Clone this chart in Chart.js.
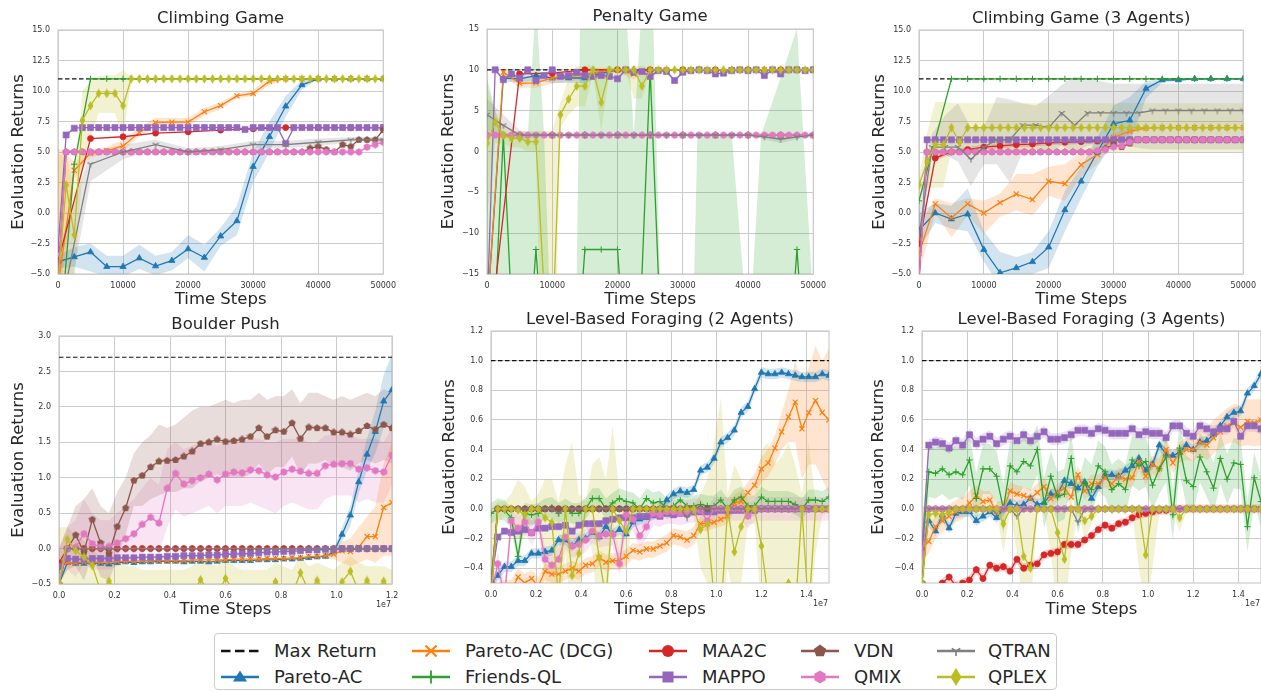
<!DOCTYPE html>
<html>
<head>
<meta charset="utf-8">
<script src="https://cdn.jsdelivr.net/npm/chart.js@4.4.1/dist/chart.umd.min.js"></script>
<style>
body { margin: 0; background: #fff; width: 1261px; height: 692px; overflow: hidden; position: relative; font-family: "DejaVu Sans", sans-serif; }
canvas { position: absolute; }
#legendBox { position: absolute; left: 214px; top: 633px; width: 843px; height: 57px; border: 1px solid #cccccc; border-radius: 4px; box-sizing: border-box; }
.lg { position: absolute; height: 20px; line-height: 20px; font-size: 18px; color: #262626; white-space: nowrap; }
</style>
</head>
<body>
<div id="legendBox"></div>
<script>
// series names / colours (legend order)
const seriesNames = ['Pareto-AC', 'Pareto-AC (DCG)', 'Friends-QL', 'MAA2C', 'MAPPO', 'VDN', 'QMIX', 'QTRAN', 'QPLEX'];
const seriesColors = ['#1f77b4', '#ff7f0e', '#2ca02c', '#d62728', '#9467bd', '#8c564b', '#e377c2', '#7f7f7f', '#bcbd22'];
const maxReturns = [11, 10, 11, 2.7, 1.0, 1.0];

// tick labels
const row1XTicks = [0, 10000, 20000, 30000, 40000, 50000];
const climbYTicks = [-5, -2.5, 0, 2.5, 5, 7.5, 10, 12.5, 15];
const penaltyYTicks = [-15, -10, -5, 0, 5, 10, 15];
const boulderXTicks = [0, 2e6, 4e6, 6e6, 8e6, 1e7, 1.2e7];
const boulderYTicks = [-0.5, 0, 0.5, 1, 1.5, 2, 2.5, 3];
const lbfXTicks = [0, 2e6, 4e6, 6e6, 8e6, 1e7, 1.2e7, 1.4e7];
const lbfYTicks = [-0.4, -0.2, 0, 0.2, 0.4, 0.6, 0.8, 1.0, 1.2];

// ---------- Climbing Game ----------
const cgPareto = [-4.0,-3.6,-3.2,-4.4,-4.4,-3.7,-4.35,-3.9,-2.95,-3.65,-1.9,-0.65,3.8,6.25,8.75,10.5,11,11,11,11,11];
const cgParetoHi = [-3.5,-2.8,-2.5,-3.5,-3.5,-2.6,-3.5,-3.2,-1.8,-2.6,-1.2,0.6,5.0,7.5,9.6,10.9,11,11,11,11,11];
const cgParetoLo = [-4.5,-4.4,-4.8,-5.2,-5.2,-4.6,-5.1,-4.7,-3.7,-4.8,-2.7,-1.8,2.5,5.0,7.9,10.1,11,11,11,11,11];
const cgDcg = [-6,3.5,4.9,5.1,5.5,6.6,7.4,7.45,7.45,8.3,8.8,9.6,9.8,10.8,11,11,11,11,11,11,11];
const cgDcgHi = [5.3,4.2,5.2,5.4,6.0,7.0,7.8,7.8,7.8,8.6,9.1,9.8,10.1,11.1,11,11,11,11,11,11,11];
const cgDcgLo = [-8,2.8,4.6,4.8,5.1,6.3,7.1,7.1,7.1,8.0,8.5,9.4,9.6,10.5,11,11,11,11,11,11,11];
const cgFriends = [-12,4.0,11,11,11,11,11,11,11,11,11,11,11,11,11,11,11,11,11,11,11];
const cgMaa2c = [-4.0,6.1,6.25,6.55,6.65,6.8,6.9,7.0,7.0,7.0,7.0];
const cgMappo = [-3.0,6.4,6.95,7,7,7,7,7,7,7,7,7,7,7,7,7,7,7,7,7,7,7,7,6.85,7,7,7,7,5.7,7,7,7,7,7,7,7,7,7,7,7,7];
const cgVdn = [-5.5,5,5,5,5,5,5,5,5,5,5,5,5,5,5,5,5,5,5,5,5,5,5,5,5,5,5,5,5,5,5,5.3,5.45,5.2,5.0,5.6,5.45,6.0,6.0,6.0,6.8];
const cgQmix = [-5.5,5,5,5,5,5,5,5,5,5,5,5,5,5,5,5,5,5,5,5,5,5,5,5,5,5,5,5,5,5,5,5,5,5,5,5,5,5,5.4,5.6,5.8];
const cgQtran = [-9,4.0,5.0,5.6,5.0,5.2,5.6,5.6,5.8,6.0,6.0];
const cgQtranHi = [-3,5.0,5.6,6.0,5.3,5.5,5.9,5.9,6.1,6.2,6.2];
const cgQtranLo = [-12,2.6,4.4,5.2,4.7,4.9,5.3,5.3,5.5,5.8,5.8];
const cgQplex = [-6,2.3,-1.8,7.6,8.8,9.8,9.8,9.8,8.8,11,11,11,11,11,11,11,11,11,11,11,11,11,11,11,11,11,11,11,11,11,11,11,11,11,11,11,11,11,11,11,11];
const cgQplexHi = [4.8,4.8,2.0,10.0,10.8,11.2,11.3,11.3,11.7,11.2,11];
const cgQplexLo = [-8,-5,-6,3.5,6.0,8.2,8.2,8.2,6.0,10.8,11];

// ---------- Penalty Game ----------
const pgPareto = [-20,9.0,8.9,9.3,9.0,9.0,9.0,9.6,10,10,10,10,10,10,10,10,10,10,10,10,10];
const pgParetoHi = [9.4,9.4,9.7,9.6,9.6,9.6,9.9,10];
const pgParetoLo = [8.6,8.4,8.7,8.4,8.4,8.4,9.2,10];
const pgDcg = [-20,9.7,8.35,8.4,9.0,9.2,9.4,9.8,10,9.5,10,10,10,10,10,10,10,10,10,10,10];
const pgDcgHi = [10.2,9.2,9.3,9.8,9.9,10.2,10.2,10.2,10.2,10];
const pgDcgLo = [9.2,7.8,7.8,8.3,8.6,8.8,9.3,9.8,8.8,10];
const pgFriends = [-40,2,-40,-12,-40,-40,-12,-12,-12,-40,10,-40,-40,-40,-40,-40,-40,-40,-40,-12,-40];
const pgFriendsBandX = [0,1250,2500,3750,5000,6250,7250,7750,8750,9500,13750,14250,15000,20000,21500,22500,23500,24500,25500,26500,31750,32250,37500,39250,40750,42000,47500,49750];
const pgFriendsHi = [9,5,2,2,2,2,15,15,2,-15,-15,15,15,15,15,2,15,15,15,-15,-15,2,2,-15,-15,2,15,-15];
const pgMaa2c = [-25,9.5,9.6,10,10,10,10,10,10,10,10];
const pgMappo = [-20,10,8.8,9.5,9.0,10,8.7,9.3,10,9.2,9.3,9.7,9.3,9.2,9.3,9.2,8.9,10,9.7,9.8,9.2,9.9,9.8,8.7,9.7,9.9,10,9.9,9.5,9.6,9.9,10,9.9,10,9.3,10,9.5,10,10,9.9,10];
const pgVdn = [2,2,2,2,2,2,2,2,2,2,2];
const pgQmix = [2,2,2,2,2,2,2,2,2,2,2,2,2,2,2,2,2,2,2,2,2,2,2,2,2,2,2,2,2,2,2,2,2,2,2,2,2,2,2,2,2];
const pgQtran = [4.5,3.2,2.0,2.0,2.0,2.0,2.0,2.0,2.0,2.0,2.0,2.0,2.0,2.0,2.0,2.0,2.0,1.8,1.5,1.8,2.0];
const pgQtranHi = [6.5,4.5,2.6,2.2,2.1,2.1,2.1,2.1,2.1,2.1,2.1,2.1,2.1,2.1,2.1,2.1,2.1,2.1,2.0,2.1,2.1];
const pgQtranLo = [2.5,2.0,1.4,1.8,1.9,1.9,1.9,1.9,1.9,1.9,1.9,1.9,1.9,1.9,1.9,1.9,1.9,1.5,1.0,1.5,1.9];
const pgQplex = [1.0,3.6,2.0,1.6,1.6,1.2,1.2,-17,-23,4.5,6.4,8.0,8.0,10,6.0,10,10,10,10,8.0,10,10,10,10,10,10,10,10,10,10,10,10,10,10,10,10,10,10,10,10,10];
const pgQplexHi = [8,5,3,2.5,2.5,2.5,2.5,2.5,2.5,6,9,10.5,10.5,10.5,10,10.5,10.2,10.2,10.5,10.5,10.2];
const pgQplexLo = [-8,1,1,0.5,0.5,0,0,-40,-40,3,4.5,5.5,5.5,9.5,2.5,9.5,9.8,9.8,6.5,6.5,9.8];

// ---------- Climbing Game (3 Agents) ----------
const c3Pareto = [-1.4,0.0,-0.5,-0.1,-3.0,-4.9,-4.5,-4.0,-2.8,0.25,2.6,5.0,7.3,7.6,10.2,10.9,10.9,11,11,11,11];
const c3ParetoHi = [0,0.8,0.6,2.0,-1.5,-3.2,-3.6,-3.2,-1.5,1.8,3.8,6.2,8.8,9.5,10.8,11,11,11,11,11,11];
const c3ParetoLo = [-3,-0.8,-1.3,-1.5,-4.0,-6,-5.5,-5,-4.5,-1.5,1.2,3.8,5.8,5.8,9.4,10.7,10.8,11,11,11,11];
const c3Dcg = [-3.3,0.75,-0.4,0.75,0.0,0.85,1.55,1.1,2.6,2.4,3.95,4.8,6.2,6.7,6.95,7.0,7.0,7.0,7.0,7.0,7.0];
const c3DcgHi = [-1,1.2,0.8,1.2,1.0,1.6,3.2,3.2,3.8,4.0,5.0,5.6,6.6,6.9,7.0,7.0,7.0,7.0,7.0,7.0,7.0];
const c3DcgLo = [-5,0.0,-2.0,-0.2,-1.7,-0.3,0.2,-0.2,1.4,1.0,3.0,4.0,5.8,6.5,6.9,7.0,7.0,7.0,7.0,7.0,7.0];
const c3Friends = [1.0,6.0,11,11,11,11,11,11,11,11,11,11,11,11,11,11,11,11,11,11,11];
const c3Maa2c = [-2.5,4.5,5.0,5.2,5.4,5.5,5.6,5.65,5.75,5.8,5.85,5.9,5.95,6.0,6.0,6.0,6.0,6.0,6.0,6.0,6.0];
const c3Mappo = [-5.5,6,6,6,6,6,6,6,6,6,6,6,6,6,6,6,6,6,6,6,6,6,6,6,6,6,6,6,6,6,6,6,6,6,6,6,6,6,6,6,6];
const c3Vdn = [-5.5,5,5,5,5,5,5,5,5,5,5,5,5,5,5,5,5,5,5,5,5,5,5,5.3,5.6,5.4,5.7,6,6,6,6,6,6,6,6,6,6,6,6,6,6];
const c3Qmix = [-5.5,5,5,5,5,5,5,5,5,5,5,5,5,5,5,5,5,5,5,5,5,5,5.1,5.2,5.4,5.5,5.8,6,6,6,6,6,6,6,6,6,6,6,6,6,6];
const c3Qtran = [-2.0,5.4,5.4,5.4,4.4,5.4,6.0,6.0,7.2,7.2,7.0,8.2,7.2,8.2,8.2,8.2,8.2,8.2,8.4,8.4,8.4,8.4,8.4,8.4,8.4,8.4];
const c3QtranHi = [1,6.5,8.0,9.0,7.0,7.0,9.5,9.3,9.0,8.8,9.6,10.5,11.2,11.0,10.8,10.6,10.6,10.6,10.6,10.6,10.6,10.6,10.6,10.6,10.6,10.6];
const c3QtranLo = [-4,4.5,4.8,4.2,2.2,4.0,4.0,2.5,5.0,5.2,5.0,5.5,5.0,5.5,5.6,5.6,5.5,5.3,5.2,5.2,5.2,5.2,5.2,5.2,5.2,5.2];
const c3Qplex = [2.3,4.2,5.6,5.6,7.0,5.8,7,7,7,7,7,7,7,7,7,7,7,7,7,7,7,7,7,7,7,7,7,7,7,7,7,7,7,7,7,7,7,7,7,7,7];
const c3QplexHi = [3.0,6.6,9.1,9.1,9.0,9.0,9,9,9,9,9,9,9,9,9,9,9,9,9,9,9,9,9,9,9,9,9,9,9,9,9,9,9,9,9,9,9,9,9,9,9];
const c3QplexLo = [1.5,2.0,2.1,2.1,5.2,5.0,5,5,5,5,5,5,5,5,5,5,5,5,5,5,5,5,5,5,5,5,5,5,5,5,5,5,5,5,5,5,5,5,5,5,5];

// ---------- Boulder Push ----------
const bpPareto = [-0.5,-0.2,-0.21,-0.21,-0.2,-0.21,-0.22,-0.2,-0.19,-0.2,-0.19,-0.19,-0.18,-0.18,-0.18,-0.19,-0.18,-0.18,-0.19,-0.18,-0.17,-0.17,-0.17,-0.17,-0.16,-0.16,-0.16,-0.15,-0.15,-0.14,-0.13,-0.12,-0.11,-0.05,0.2,0.47,0.94,1.33,1.65,2.08,2.24];
const bpParetoHi = [-0.08,0.0,0.3,0.6,1.1,1.55,1.95,2.45,2.75];
const bpParetoLo = [-0.14,-0.1,0.1,0.32,0.78,1.1,1.35,1.7,1.75];
const bpDcg = [-0.25,-0.2,-0.2,-0.19,-0.19,-0.19,-0.19,-0.18,-0.18,-0.18,-0.17,-0.17,-0.17,-0.17,-0.17,-0.17,-0.16,-0.16,-0.16,-0.16,-0.16,-0.15,-0.15,-0.15,-0.15,-0.14,-0.14,-0.14,-0.13,-0.13,-0.11,-0.11,-0.1,-0.08,-0.03,-0.04,0.02,0.17,0.17,0.58,0.65];
const bpDcgHi = [-0.05,0.0,0.1,0.15,0.3,0.45,0.6,1.2,1.5];
const bpDcgLo = [-0.15,-0.15,-0.2,-0.25,-0.2,-0.15,-0.2,-0.1,-0.1];
const bpFriends = [-0.5,0,0,0,0,0,0,0,0,0,0,0,0,0,0,0,0,0,0,0,0,0,0,0,0,0,0,0,0,0,0,0,0,0,0,0,0,0,0,0,0];
const bpMaa2c = [-0.2,0,0,0,0,0,0,0,0,0,0,0,0,0,0,0,0,0,0,0,0,0,0,0,0,0,0,0,0,0,0,0,0,0,0,0,0,0,0,0,0];
const bpMappo = [-0.25,-0.14,-0.15,-0.15,-0.14,-0.14,-0.14,-0.13,-0.13,-0.13,-0.12,-0.12,-0.12,-0.11,-0.11,-0.1,-0.1,-0.1,-0.09,-0.09,-0.08,-0.08,-0.07,-0.07,-0.06,-0.05,-0.05,-0.04,-0.04,-0.03,-0.02,-0.02,-0.01,-0.01,0,0,0,0,0,0,0];
const bpVdn = [-0.5,0.0,0.19,-0.05,0.41,0.08,-0.07,0.31,0.57,0.96,1.03,1.15,1.23,1.24,1.25,1.30,1.37,1.48,1.50,1.54,1.51,1.52,1.54,1.58,1.70,1.58,1.67,1.65,1.77,1.55,1.71,1.70,1.70,1.64,1.64,1.61,1.66,1.73,1.68,1.75,1.70];
const bpVdnHi = [0.0,0.3,0.6,0.7,0.85,0.6,0.5,0.8,1.0,1.35,1.5,1.6,1.75,1.7,1.75,1.85,1.95,2.0,2.0,2.05,2.1,2.05,2.1,2.1,2.2,2.1,2.15,2.15,2.25,2.05,2.2,2.2,2.15,2.1,2.15,2.1,2.15,2.2,2.15,2.25,2.2];
const bpVdnLo = [-0.5,-0.3,-0.25,-0.45,-0.1,-0.4,-0.45,-0.15,0.2,0.6,0.6,0.7,0.75,0.8,0.8,0.85,0.85,0.95,1.0,1.05,1.0,1.0,1.0,1.05,1.2,1.05,1.15,1.15,1.3,1.05,1.2,1.2,1.25,1.15,1.15,1.1,1.2,1.25,1.2,1.25,1.2];
const bpQmix = [-0.5,0.0,0.02,0.21,0.07,0.02,0.03,0.08,0.14,0.21,0.34,0.44,0.36,0.85,1.06,0.91,0.96,1.00,1.05,0.97,1.05,1.08,1.07,1.11,1.10,1.04,1.01,1.08,1.12,1.09,1.06,1.06,1.17,1.19,1.20,1.20,1.12,1.14,1.10,1.08,1.32];
const bpQmixHi = [0,0.3,0.4,0.7,0.5,0.4,0.4,0.5,0.6,0.7,0.85,1.0,0.9,1.4,1.5,1.4,1.45,1.5,1.5,1.45,1.5,1.55,1.5,1.55,1.55,1.5,1.5,1.55,1.55,1.55,1.5,1.5,1.6,1.6,1.6,1.6,1.55,1.55,1.55,1.5,1.7];
const bpQmixLo = [-0.5,-0.3,-0.4,-0.2,-0.3,-0.3,-0.3,-0.25,-0.2,-0.1,-0.05,0.0,-0.05,0.3,0.55,0.45,0.5,0.55,0.6,0.5,0.6,0.6,0.6,0.65,0.6,0.55,0.5,0.6,0.65,0.6,0.55,0.55,0.7,0.75,0.75,0.75,0.65,0.7,0.65,0.65,0.9];
const bpQtran = [-0.3,0,0,0,0,0,0,0,0,0,0,0,0,0,0,0,0,0,0,0,0,0,0,0,0,0,0,0,0,0,0,0,0,0,0,0,0,0,0,0,0];
const bpQplex = [-0.5,0.13,-0.03,-0.12,-0.24,-0.6,-0.46,-0.6,-0.65,-0.6,-0.65,-0.6,-0.7,-0.6,-0.65,-0.6,-0.65,-0.44,-0.6,-0.65,-0.42,-0.6,-0.65,-0.6,-0.65,-0.6,-0.47,-0.6,-0.65,-0.34,-0.6,-0.45,-0.6,-0.65,-0.47,-0.32,-0.6,-0.45,-0.6,-0.46,-0.6];
const bpQplexHi = [0.3,0.3,0.2,0.1,0.0,-0.15,-0.05,-0.2,-0.25,-0.25,-0.3,-0.3,-0.3,-0.3,-0.3,-0.3,-0.25,-0.15,-0.2,-0.25,-0.1,-0.25,-0.3,-0.3,-0.3,-0.3,-0.2,-0.25,-0.3,-0.1,-0.25,-0.2,-0.25,-0.3,-0.2,-0.1,-0.2,-0.25,-0.25,-0.25,-0.3];
const bpQplexLo = -1;

// ---------- Level-Based Foraging (2 Agents) ----------
const l2Pareto = [-0.5,-0.45,-0.39,-0.39,-0.35,-0.35,-0.3,-0.3,-0.29,-0.28,-0.21,-0.21,-0.25,-0.21,-0.2,-0.16,-0.19,-0.12,-0.17,-0.14,-0.17,-0.09,-0.07,-0.06,-0.04,-0.02,0.06,0.1,0.12,0.11,0.13,0.26,0.28,0.34,0.45,0.48,0.53,0.65,0.69,0.81,0.92,0.91,0.91,0.92,0.91,0.9,0.89,0.89,0.89,0.91,0.9];
const l2Dcg = [-0.6,-0.6,-0.55,-0.55,-0.46,-0.5,-0.47,-0.52,-0.42,-0.44,-0.44,-0.42,-0.4,-0.42,-0.38,-0.37,-0.33,-0.36,-0.35,-0.35,-0.32,-0.28,-0.29,-0.27,-0.27,-0.25,-0.23,-0.18,-0.19,-0.21,-0.18,-0.1,-0.1,-0.09,-0.07,-0.05,0.04,0.05,0.11,0.16,0.27,0.31,0.41,0.52,0.62,0.72,0.54,0.65,0.73,0.65,0.6];
const l2DcgHi = [-0.5,-0.5,-0.48,-0.48,-0.4,-0.44,-0.41,-0.46,-0.37,-0.39,-0.39,-0.37,-0.35,-0.37,-0.33,-0.32,-0.28,-0.31,-0.3,-0.3,-0.27,-0.23,-0.24,-0.22,-0.22,-0.2,-0.17,-0.13,-0.14,-0.15,-0.12,-0.05,-0.05,
  -0.05,-0.02,0.0,0.1,0.12,0.18,0.24,0.35,0.4,0.5,0.65,0.8,1.0,0.85,0.95,1.1,1.0,1.08];
const l2DcgLo = [-0.7,-0.7,-0.62,-0.62,-0.52,-0.56,-0.53,-0.58,-0.48,-0.5,-0.5,-0.48,-0.46,-0.48,-0.44,-0.43,-0.39,-0.42,-0.41,-0.41,-0.38,-0.34,-0.35,-0.33,-0.33,-0.31,-0.29,-0.24,-0.25,-0.27,-0.24,-0.15,-0.15,
  -0.13,-0.12,-0.1,-0.02,-0.02,0.04,0.08,0.18,0.22,0.3,0.4,0.45,0.45,0.2,0.3,0.3,0.2,0.1];
const l2Friends = [-0.03,0.0,-0.01,-0.06,-0.32,-0.03,-0.04,-0.03,0.0,0.01,-0.03,0.0,-0.03,-0.03,0.0,0.07,0.07,0.0,0.04,0.07,0.05,0.04,0.0,0.07,0.04,0.05,0.0,0.02,0.06,0.02,0.02,0.03,0.02,0.02,0.06,0.0,0.06,0.08,0.02,0.02,0.08,0.05,0.05,0.05,0.05,0.03,0.0,0.06,0.06,0.05,0.08];
const l2Maa2c = [-0.6,0,0,0,0,0,0,0,0,0,0,0,0,0,0,0,0,0,0,0,0,0,0,0,0,0,0,0,0,0,0,0,0,0,0,0,0,0,0,0,0,0,0,0,0,0,0,0,0,0,0];
const l2Mappo = [-0.5,-0.19,-0.15,-0.16,-0.15,-0.14,-0.16,-0.13,-0.13,-0.12,-0.12,-0.11,-0.15,-0.11,-0.1,-0.1,-0.1,-0.08,-0.07,-0.06,-0.06,-0.06,-0.05,-0.05,-0.04,-0.05,-0.03,-0.04,-0.03,-0.03,-0.02,-0.02,-0.02,-0.02,-0.01,-0.01,-0.01,-0.01,-0.01,-0.01,0,0,0,0,0,0,0,0,0,0,0];
const l2Vdn = [-0.5,0,0,0,0,0,0,0,0,0,0,0,0,0,0,0,0,0,0,0,0,0,0,0,0,0,0,0,0,0,0,0,0,0,0,0,0,0,0,0,0,0,0,0,0,0,0,0,0,0,0];
const l2Qmix = [-0.6,-0.37,-0.6,-0.08,-0.13,-0.09,-0.16,-0.09,-0.34,-0.38,-0.34,-0.19,-0.25,-0.24,-0.21,-0.15,-0.18,-0.17,-0.17,-0.37,-0.04,-0.07,-0.18,-0.12,-0.03,-0.04,-0.02,-0.02,-0.03,-0.02,-0.01,-0.01,-0.08,0,0,0,0,0,-0.05,0,0,0,0,0,0,0,0,0,0,0,0];
const l2Qtran = [-0.5,0,0,0,0,0,0,0,0,0,-0.03,0,0,0,0,0,0,0,0,0,0,0,0,0,0,0,0,0,0,-0.06,0,0,0,0,0,0,0,0,0,0,0,0,0,0,0,0,0,0,0,0,0];
const l2Qplex = [-0.6,0.0,0.0,0.0,-0.01,-0.04,0.0,0.0,-0.06,-0.09,-0.6,0.0,-0.45,-0.3,0.0,0.0,-0.33,-0.6,0.0,-0.08,-0.15,0.0,0.0,0.0,0.0,0.0,0.0,0.0,0.0,0.0,0.0,-0.14,-0.1,-0.6,-0.7,0.0,-0.29,-0.12,0.0,0.0,-0.25,-0.6,-0.7,-0.7,-0.5,-0.7,0.0,-0.7,0.0,0.0,0.0];
const l2QplexHi = [0.0,0.05,0.05,0.1,0.2,0.15,0.05,0.1,0.2,0.2,0.05,0.3,0.45,0.1,0.05,0.3,0.35,0.2,0.56,0.1,0.05,0.02,0.02,0.02,0.02,0.02,0.02,0.02,0.02,0.02,0.02,0.1,0.2,0.45,0.75,0.1,0.3,0.2,0.05,0.05,0.4,0.45,0.3,0.35,0.45,0.3,0.1,0.45,0.05,0.02,0.02];
const l2QplexLo = [-0.7,-0.1,-0.05,-0.1,-0.2,-0.2,-0.1,-0.1,-0.5,-0.6,-0.8,-0.3,-0.8,-0.7,-0.1,-0.3,-0.8,-0.8,-0.1,-0.4,-0.4,-0.05,-0.02,-0.02,-0.02,-0.02,-0.02,-0.02,-0.02,-0.02,-0.05,-0.4,-0.5,-0.8,-0.8,-0.4,-0.6,-0.5,-0.1,-0.1,-0.7,-0.8,-0.8,-0.8,-0.8,-0.8,-0.5,-0.8,-0.3,-0.05,-0.02];

// ---------- Level-Based Foraging (3 Agents) ----------
const l3Pareto = [-0.27,-0.08,-0.15,-0.04,-0.13,-0.03,-0.02,-0.02,-0.08,-0.05,-0.02,-0.06,0.0,0.04,0.02,0.03,0.07,0.03,0.04,0.1,0.1,0.19,0.17,0.14,0.18,0.07,0.15,0.23,0.23,0.22,0.26,0.29,0.34,0.26,0.3,0.43,0.37,0.36,0.38,0.43,0.4,0.45,0.46,0.5,0.56,0.62,0.65,0.66,0.78,0.83,0.91];
const l3Dcg = [-0.25,-0.22,-0.12,-0.08,-0.05,-0.02,0.0,0.04,0.09,0.05,0.06,-0.02,0.0,0.12,0.1,0.09,0.07,0.11,0.15,0.07,0.11,0.14,0.08,0.23,0.12,0.17,0.17,0.21,0.17,0.22,0.2,0.21,0.32,0.22,0.3,0.27,0.4,0.31,0.38,0.4,0.4,0.45,0.43,0.48,0.52,0.56,0.58,0.55,0.59,0.58,0.6];
const l3DcgHi = [-0.15,-0.12,-0.04,0.0,0.03,0.06,0.08,0.12,0.16,0.12,0.12,0.05,0.06,0.18,0.16,0.15,0.13,0.17,0.21,0.13,0.17,0.2,0.14,0.29,0.18,0.23,0.23,0.27,0.23,0.28,0.26,0.27,0.38,0.28,0.36,0.34,0.47,0.38,0.45,0.48,0.49,0.55,0.54,0.6,0.64,0.68,0.71,0.7,0.74,0.74,0.74];
const l3DcgLo = [-0.35,-0.3,-0.2,-0.16,-0.12,-0.09,-0.07,-0.03,0.02,-0.02,0.0,-0.08,-0.06,0.06,0.04,0.03,0.01,0.05,0.09,0.01,0.05,0.08,0.02,0.17,0.06,0.11,0.11,0.15,0.11,0.16,0.14,0.15,0.26,0.16,0.24,0.2,0.33,0.24,0.31,0.33,0.32,0.36,0.33,0.37,0.41,0.44,0.45,0.42,0.43,0.42,0.43];
const l3Friends = [-0.3,0.25,0.24,0.27,0.23,0.25,0.23,0.33,0.07,0.27,0.27,0.22,0.0,0.29,0.25,0.32,0.29,0.4,0.04,0.22,0.08,0.1,0.34,0.0,0.18,0.13,0.29,0.25,0.13,0.17,0.13,0.33,0.29,0.32,0.16,0.27,0.35,-0.04,0.41,0.19,0.15,0.35,0.25,0.14,0.34,0.2,0.31,0.3,-0.12,0.21,0.05];
const l3Maa2c = [-0.6,-0.6,-0.55,-0.5,-0.46,-0.52,-0.5,-0.48,-0.41,-0.47,-0.38,-0.4,-0.39,-0.42,-0.34,-0.4,-0.38,-0.37,-0.31,-0.3,-0.29,-0.24,-0.24,-0.24,-0.21,-0.18,-0.14,-0.11,-0.13,-0.1,-0.09,-0.06,-0.04,-0.03,-0.02,-0.01,-0.01,0,0,0,0,0,0,0,0,0,0,0,0,0,0];
const l3Mappo = [-0.28,0.43,0.45,0.44,0.41,0.46,0.43,0.5,0.44,0.47,0.49,0.44,0.47,0.49,0.46,0.5,0.46,0.49,0.52,0.47,0.47,0.48,0.5,0.53,0.53,0.51,0.54,0.53,0.51,0.51,0.51,0.54,0.5,0.52,0.51,0.51,0.48,0.56,0.56,0.51,0.49,0.56,0.54,0.52,0.54,0.54,0.59,0.49,0.56,0.56,0.54];
const l3Vdn = [-0.5,0,0,0,0,0,0,0,0,0,0,0,0,0,0,0,0,0,0,0,0,0,0,0,0,0,0,0,0,0,0,0,0,0,0,0,0,0,0,0,0,0,0,0,0,0,0,0,0,0,0];
const l3Qmix = [-0.3,0,0,0,0,0,0,0,0,0,0,0,0,0,0,0,0,0,0,0,0,0,0,0,0,0,0,0,0,0,0,0,0,0,0,0,0,0,0,0,0,0,0,0,0,0,0,0,0,0,0];
const l3Qtran = [-0.5,0,0,0,0,0,0,0,0,0,0,-0.03,0,0,-0.05,0,0,0,0,0,0,0,0,-0.09,0,0,0,0,0,0,0,0,0,0,0,0,0,0,0,0,0,0,0,0,0,0,0,0,0,0,0];
const l3Qplex = [-0.5,-0.04,-0.03,-0.04,-0.02,0,0,0,0,0,0,0,-0.1,0,0,-0.32,-0.4,0,0,0,-0.16,-0.34,0,0,-0.08,-0.05,0,0,0,0,0,0,0,-0.31,0,0,0,0,-0.06,0,0,0,0,0,0,0,0,0,0,0,0];
const l3QplexLo = [-0.7,-0.1,-0.1,-0.1,-0.05,-0.02,-0.02,-0.02,-0.02,-0.02,-0.02,-0.02,-0.3,-0.02,-0.3,-0.7,-0.7,-0.02,-0.02,-0.3,-0.7,-0.7,-0.3,-0.02,-0.2,-0.1,-0.02,-0.02,-0.02,-0.02,-0.02,-0.02,-0.4,-0.7,-0.4,-0.02,-0.02,-0.02,-0.15,-0.02,-0.02,-0.02,-0.02,-0.02,-0.02,-0.02,-0.02,-0.02,-0.02,-0.02,-0.02];

// ---------- formatting / layout helpers ----------
const fmt1 = v => v.toFixed(1).replace('-', '\u2212');
const fmtInt = v => String(v).replace('-', '\u2212');
const fmtE7 = v => (v / 1e7).toFixed(1);
const YW = 58, RP = 16, TH = 30, XH = 40, FS = 16.5;

const markerRadius = [3.6, 3.6, 3.2, 3.1, 4.3, 3.5, 3.5, 3.5, 3.5];
const markerBorder = [0.8, 1.2, 1.0, 0.6, 0.6, 0, 0, 0, 0];

function grid(step, n) { return Array.from({length: n}, (_, i) => i * step); }
function rgba(hex, a) {
    const n = parseInt(hex.slice(1), 16);
    return `rgba(${n >> 16},${(n >> 8) & 255},${n & 255},${a})`;
}

// small canvas markers for the styles Chart.js doesn't have
function markerImage(kind, color) {
    const c = document.createElement('canvas');
    c.width = kind === 'thinDiamond' ? 7 : 8;
    c.height = kind === 'thinDiamond' ? 10 : 8;
    const g = c.getContext('2d');
    const cx = c.width / 2, cy = c.height / 2;
    g.fillStyle = color; g.strokeStyle = color; g.lineWidth = 1.1;
    g.beginPath();
    if (kind === 'pentagon' || kind === 'hexagon') {
        const n = kind === 'pentagon' ? 5 : 6, r = 3.8;
        for (let i = 0; i < n; i++) {
            const a = -Math.PI / 2 + i * 2 * Math.PI / n;
            g.lineTo(cx + r * Math.cos(a), cy + r * Math.sin(a));
        }
        g.closePath(); g.fill();
    } else if (kind === 'thinDiamond') {
        g.moveTo(cx, 0.3); g.lineTo(c.width - 0.6, cy); g.lineTo(cx, c.height - 0.3); g.lineTo(0.6, cy);
        g.closePath(); g.fill();
    } else if (kind === 'triDown') {
        const r = 3.6;
        g.moveTo(cx, cy); g.lineTo(cx, cy + r);
        g.moveTo(cx, cy); g.lineTo(cx - r * 0.866, cy - r * 0.5);
        g.moveTo(cx, cy); g.lineTo(cx + r * 0.866, cy - r * 0.5);
        g.stroke();
    }
    return c;
}
const pointStyles = ['triangle', 'crossRot', 'cross', 'circle', 'rect',
    markerImage('pentagon', seriesColors[5]), markerImage('hexagon', seriesColors[6]),
    markerImage('triDown', seriesColors[7]), markerImage('thinDiamond', seriesColors[8])];

const R1 = {xMin: 0, xMax: 50000, xTicks: row1XTicks, xFmt: fmtInt};
const panels = [
    Object.assign({title: 'Climbing Game', box: {l: 58, t: 30, r: 387, b: 274}, titleY: 19, yTitleX: 19, xTitleY: 300,
        yMin: -5, yMax: 15, yTicks: climbYTicks, yFmt: fmt1, series: [
        {k: 0, step: 2500, y: cgPareto, band: {hi: cgParetoHi, lo: cgParetoLo}},
        {k: 1, step: 2500, y: cgDcg, band: {hi: cgDcgHi, lo: cgDcgLo}},
        {k: 2, step: 2500, y: cgFriends},
        {k: 3, step: 5000, y: cgMaa2c},
        {k: 4, step: 1250, y: cgMappo},
        {k: 5, step: 1250, y: cgVdn},
        {k: 6, step: 1250, y: cgQmix},
        {k: 7, step: 5000, y: cgQtran, band: {hi: cgQtranHi, lo: cgQtranLo}},
        {k: 8, step: 1250, y: cgQplex, band: {hi: cgQplexHi, lo: cgQplexLo}}]}, R1),
    Object.assign({title: 'Penalty Game', box: {l: 487, t: 29, r: 817, b: 274}, titleY: 16.7, yTitleX: 449, xTitleY: 300,
        yMin: -15, yMax: 15, yTicks: penaltyYTicks, yFmt: fmtInt, series: [
        {k: 0, step: 2500, y: pgPareto, band: {from: 1, hi: pgParetoHi, lo: pgParetoLo}},
        {k: 1, step: 2500, y: pgDcg, band: {from: 1, hi: pgDcgHi, lo: pgDcgLo}},
        {k: 2, step: 2500, y: pgFriends, band: {x: pgFriendsBandX, hi: pgFriendsHi, lo: -40}},
        {k: 3, step: 5000, y: pgMaa2c},
        {k: 4, step: 1250, y: pgMappo, band: {spread: 0.25}},
        {k: 5, step: 5000, y: pgVdn},
        {k: 6, step: 1250, y: pgQmix},
        {k: 7, step: 2500, y: pgQtran, band: {hi: pgQtranHi, lo: pgQtranLo}},
        {k: 8, step: 1250, y: pgQplex, band: {hi: pgQplexHi, lo: pgQplexLo}}]}, R1),
    Object.assign({title: 'Climbing Game (3 Agents)', box: {l: 919, t: 30, r: 1247, b: 274}, titleY: 19, yTitleX: 880, xTitleY: 300,
        yMin: -5, yMax: 15, yTicks: climbYTicks, yFmt: fmt1, series: [
        {k: 0, step: 2500, y: c3Pareto, band: {hi: c3ParetoHi, lo: c3ParetoLo}},
        {k: 1, step: 2500, y: c3Dcg, band: {hi: c3DcgHi, lo: c3DcgLo}},
        {k: 2, step: 2500, y: c3Friends},
        {k: 3, step: 2500, y: c3Maa2c, band: {spread: 0.2}},
        {k: 4, step: 1250, y: c3Mappo},
        {k: 5, step: 1250, y: c3Vdn},
        {k: 6, step: 1250, y: c3Qmix},
        {k: 7, step: 2000, y: c3Qtran, band: {hi: c3QtranHi, lo: c3QtranLo}},
        {k: 8, step: 1250, y: c3Qplex, band: {hi: c3QplexHi, lo: c3QplexLo}}]}, R1),
    {title: 'Boulder Push', box: {l: 59, t: 336, r: 392, b: 584}, titleY: 324.3, yTitleX: 19, xTitleY: 610,
        xMin: 0, xMax: 1.2e7, xTicks: boulderXTicks, xFmt: fmtE7, offsetText: '1e7',
        yMin: -0.5, yMax: 3.0, yTicks: boulderYTicks, yFmt: fmt1, series: [
        {k: 0, step: 3e5, y: bpPareto, band: {from: 32, hi: bpParetoHi, lo: bpParetoLo}},
        {k: 1, step: 3e5, y: bpDcg, band: {from: 32, hi: bpDcgHi, lo: bpDcgLo}},
        {k: 2, step: 3e5, y: bpFriends},
        {k: 3, step: 3e5, y: bpMaa2c},
        {k: 4, step: 3e5, y: bpMappo, band: {spread: 0.02}},
        {k: 5, step: 3e5, y: bpVdn, band: {hi: bpVdnHi, lo: bpVdnLo}},
        {k: 6, step: 3e5, y: bpQmix, band: {hi: bpQmixHi, lo: bpQmixLo}},
        {k: 7, step: 3e5, y: bpQtran},
        {k: 8, step: 3e5, y: bpQplex, band: {hi: bpQplexHi, lo: bpQplexLo}}]},
    {title: 'Level-Based Foraging (2 Agents)', box: {l: 491, t: 331, r: 829, b: 583}, titleY: 319.3, yTitleX: 450, xTitleY: 610,
        xMin: 0, xMax: 1.5e7, xTicks: lbfXTicks, xFmt: fmtE7, offsetText: '1e7',
        yMin: -0.5, yMax: 1.2, yTicks: lbfYTicks, yFmt: fmt1, series: [
        {k: 0, step: 3e5, y: l2Pareto, band: {spread: 0.035}},
        {k: 1, step: 3e5, y: l2Dcg, band: {hi: l2DcgHi, lo: l2DcgLo}},
        {k: 2, step: 3e5, y: l2Friends, band: {spread: 0.07}},
        {k: 3, step: 3e5, y: l2Maa2c},
        {k: 4, step: 3e5, y: l2Mappo, band: {spread: 0.02}},
        {k: 5, step: 3e5, y: l2Vdn},
        {k: 6, step: 3e5, y: l2Qmix, band: {spread: 0.08}},
        {k: 7, step: 3e5, y: l2Qtran},
        {k: 8, step: 3e5, y: l2Qplex, band: {hi: l2QplexHi, lo: l2QplexLo}}]},
    {title: 'Level-Based Foraging (3 Agents)', box: {l: 922, t: 331, r: 1261, b: 583}, titleY: 320, yTitleX: 879, xTitleY: 610,
        xMin: 0, xMax: 1.5e7, xTicks: lbfXTicks, xFmt: fmtE7, offsetText: '1e7',
        yMin: -0.5, yMax: 1.2, yTicks: lbfYTicks, yFmt: fmt1, series: [
        {k: 0, step: 3e5, y: l3Pareto, band: {spread: 0.035}},
        {k: 1, step: 3e5, y: l3Dcg, band: {hi: l3DcgHi, lo: l3DcgLo}},
        {k: 2, step: 3e5, y: l3Friends, band: {spread: 0.17}},
        {k: 3, step: 3e5, y: l3Maa2c, band: {spread: 0.03}},
        {k: 4, step: 3e5, y: l3Mappo, band: {spread: 0.04}},
        {k: 5, step: 3e5, y: l3Vdn},
        {k: 6, step: 3e5, y: l3Qmix},
        {k: 7, step: 3e5, y: l3Qtran},
        {k: 8, step: 3e5, y: l3Qplex, band: {hi: 0.02, lo: l3QplexLo}}]}
];

function bandData(s) {
    const xs = grid(s.step, s.y.length);
    const b = s.band;
    let bx, hi, lo;
    if (b.spread !== undefined) {
        bx = xs;
        hi = s.y.map(v => v + b.spread);
        lo = s.y.map(v => v - b.spread);
    } else {
        const from = b.from || 0;
        const n = Array.isArray(b.hi) ? b.hi.length : b.lo.length;
        bx = b.x || xs.slice(from, from + n);
        hi = Array.isArray(b.hi) ? b.hi : bx.map(() => b.hi);
        lo = Array.isArray(b.lo) ? b.lo : bx.map(() => b.lo);
    }
    return [bx.map((x, i) => ({x, y: hi[i]})), bx.map((x, i) => ({x, y: lo[i]}))];
}

const framePlugin = {
    id: 'frame',
    beforeDatasetsDraw(chart) {
        const {ctx, chartArea: a} = chart;
        ctx.save();
        ctx.strokeStyle = '#cccccc'; ctx.lineWidth = 1.2;
        ctx.strokeRect(a.left, a.top, a.right - a.left, a.bottom - a.top);
        ctx.restore();
    }
};
const offsetTextPlugin = {
    id: 'offsetText',
    afterDraw(chart, args, opts) {
        if (!opts.text) return;
        const {ctx, chartArea: a} = chart;
        ctx.save();
        ctx.font = '8px "DejaVu Sans"'; ctx.fillStyle = '#333';
        ctx.textAlign = 'right'; ctx.textBaseline = 'middle';
        ctx.fillText(opts.text, a.right - 1, a.bottom + 21);
        ctx.restore();
    }
};

Chart.defaults.font.family = '"DejaVu Sans", sans-serif';

panels.forEach((p, idx) => {
    const bx = p.box;
    const w = bx.r - bx.l + YW + RP, h = bx.b - bx.t + TH + XH;
    const left = bx.l - YW, top = bx.t - TH;
    const cv = document.createElement('canvas');
    cv.width = w; cv.height = h;
    cv.style.left = left + 'px'; cv.style.top = top + 'px';
    cv.style.width = w + 'px'; cv.style.height = h + 'px';
    document.body.appendChild(cv);

    const lineH = FS * 1.2;
    const titlePadTop = p.titleY - top - lineH / 2;
    const yTitlePad = p.yTitleX - left - lineH / 2;
    const xTitlePad = (top + h) - p.xTitleY - lineH / 2;

    const datasets = [];
    p.series.forEach(s => {
        if (!s.band) return;
        const [hi, lo] = bandData(s);
        datasets.push({data: hi, fill: '+1', backgroundColor: rgba(seriesColors[s.k], 0.2),
            borderColor: 'transparent', borderWidth: 0, pointRadius: 0, order: 50});
        datasets.push({data: lo, fill: false, borderColor: 'transparent', borderWidth: 0, pointRadius: 0, order: 50});
    });
    datasets.push({data: [{x: p.xMin, y: maxReturns[idx]}, {x: p.xMax, y: maxReturns[idx]}],
        borderColor: '#111', borderWidth: 1.2, borderDash: [4.5, 2.5], pointRadius: 0, fill: false, order: 30});
    p.series.forEach(s => {
        const xs = grid(s.step, s.y.length);
        const col = seriesColors[s.k];
        datasets.push({
            label: seriesNames[s.k],
            data: s.y.map((y, i) => ({x: xs[i], y})),
            borderColor: col, backgroundColor: col, borderWidth: 1.3,
            pointStyle: pointStyles[s.k], pointRadius: markerRadius[s.k],
            pointBackgroundColor: col, pointBorderColor: col, pointBorderWidth: markerBorder[s.k],
            fill: false, order: 20 - s.k
        });
    });

    new Chart(cv, {
        type: 'line',
        data: {datasets},
        options: {
            responsive: false, animation: false, devicePixelRatio: 1, events: [],
            layout: {padding: {left: 0, right: RP, top: 0, bottom: 0}},
            plugins: {
                legend: {display: false}, tooltip: {enabled: false},
                title: {display: true, text: p.title, fullSize: false, color: '#262626',
                    font: {size: FS, weight: 'normal'}, padding: {top: titlePadTop, bottom: TH - lineH - titlePadTop}},
                offsetText: {text: p.offsetText || ''}
            },
            scales: {
                x: {
                    type: 'linear', min: p.xMin, max: p.xMax,
                    afterBuildTicks: a => { a.ticks = p.xTicks.map(v => ({value: v})); },
                    afterFit: a => { a.height = XH; },
                    grid: {color: '#cccccc', drawTicks: false, lineWidth: 1},
                    border: {display: false},
                    ticks: {font: {size: 8}, color: '#333', padding: 7, autoSkip: false, maxRotation: 0, callback: v => p.xFmt(v)},
                    title: {display: true, text: 'Time Steps', color: '#262626', font: {size: FS}, padding: {top: 0, bottom: xTitlePad}}
                },
                y: {
                    type: 'linear', min: p.yMin, max: p.yMax,
                    afterBuildTicks: a => { a.ticks = p.yTicks.map(v => ({value: v})); },
                    afterFit: a => { a.width = YW; },
                    grid: {color: '#cccccc', drawTicks: false, lineWidth: 1},
                    border: {display: false},
                    ticks: {font: {size: 8}, color: '#333', padding: 8, autoSkip: false, callback: v => p.yFmt(v)},
                    title: {display: true, text: 'Evaluation Returns', color: '#262626', font: {size: FS}, padding: {top: yTitlePad, bottom: 0}}
                }
            }
        },
        plugins: [framePlugin, offsetTextPlugin]
    });
});

// ---------- legend (HTML, matplotlib-like handles) ----------
const legendCols = [[221, 274], [412, 465], [649, 702], [801, 854], [937, 988]];
const legendRows = [650.5, 677];
const legendEntries = ['Max Return'].concat(seriesNames);
function handleSvg(i) {
    if (i === 0) return '<line x1="0" y1="10" x2="38" y2="10" stroke="#111" stroke-width="2.5" stroke-dasharray="9.5,4.5"/>';
    const c = seriesColors[i - 1];
    let m = '';
    switch (i - 1) {
        case 0: m = `<polygon points="19,3.5 26,14.5 12,14.5" fill="${c}"/>`; break;
        case 1: m = `<path d="M13.5,4.5 L24.5,15.5 M13.5,15.5 L24.5,4.5" stroke="${c}" stroke-width="2"/>`; break;
        case 2: m = `<path d="M19,3.5 L19,16.5 M12.5,10 L25.5,10" stroke="${c}" stroke-width="1.8"/>`; break;
        case 3: m = `<circle cx="19" cy="10" r="6" fill="${c}"/>`; break;
        case 4: m = `<rect x="13.5" y="4.5" width="11" height="11" fill="${c}"/>`; break;
        case 5: m = `<polygon points="19,3.5 25.2,8 22.8,15.3 15.2,15.3 12.8,8" fill="${c}"/>`; break;
        case 6: m = `<polygon points="19,3.5 24.6,6.75 24.6,13.25 19,16.5 13.4,13.25 13.4,6.75" fill="${c}"/>`; break;
        case 7: m = `<path d="M19,10 L19,15 M19,10 L14.7,7.5 M19,10 L23.3,7.5" stroke="${c}" stroke-width="1.6"/>`; break;
        case 8: m = `<polygon points="19,1 24.5,10 19,19 13.5,10" fill="${c}"/>`; break;
    }
    return `<line x1="0" y1="10" x2="38" y2="10" stroke="${c}" stroke-width="2.4"/>` + m;
}
legendEntries.forEach((name, i) => {
    const col = Math.floor(i / 2), row = i % 2;
    const [hx, tx] = legendCols[col];
    const y = legendRows[row] - 10;
    const ns = 'http://www.w3.org/2000/svg';
    const svg = document.createElementNS(ns, 'svg');
    svg.setAttribute('width', '38'); svg.setAttribute('height', '20');
    svg.style.position = 'absolute'; svg.style.left = hx + 'px'; svg.style.top = y + 'px';
    svg.innerHTML = handleSvg(i);
    document.body.appendChild(svg);
    const t = document.createElement('div');
    t.className = 'lg';
    t.style.left = tx + 'px'; t.style.top = y + 'px';
    t.textContent = name;
    document.body.appendChild(t);
});
</script>
</body>
</html>
